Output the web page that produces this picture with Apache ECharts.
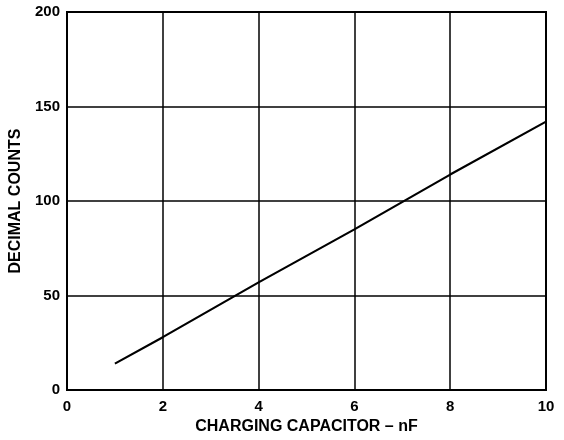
<!DOCTYPE html>
<html><head><meta charset="utf-8">
<script src="https://cdn.jsdelivr.net/npm/echarts@6/dist/echarts.min.js"></script>
<style>html,body{margin:0;padding:0;background:#fff}#c{width:564px;height:440px}</style>
</head><body><div id="c"></div>
<script>
const capacitanceNF = [1, 2, 4, 6, 8, 10];
const decimalCounts = [14, 28, 57, 85, 114, 142];
const xTitle = 'CHARGING CAPACITOR – nF';
const yTitle = 'DECIMAL COUNTS';

const chart = echarts.init(document.getElementById('c'));
const font = 'Liberation Sans, Arial, Helvetica, sans-serif';
chart.setOption({
  animation: false,
  backgroundColor: '#fff',
  grid: { left: 67, right: 18, top: 12, bottom: 46, show: true, borderColor: '#000', borderWidth: 2 },
  xAxis: {
    type: 'value', min: 0, max: 10, interval: 2,
    name: xTitle, nameLocation: 'middle', nameGap: 28,
    nameTextStyle: { fontFamily: font, fontWeight: 'bold', fontSize: 16, color: '#000' },
    axisLine: { show: true, lineStyle: { color: '#000', width: 2 } },
    axisTick: { show: false },
    axisLabel: { fontFamily: font, fontWeight: 'bold', fontSize: 15, color: '#000', margin: 9 },
    splitLine: { show: true, lineStyle: { color: '#000', width: 1.5 } }
  },
  yAxis: {
    type: 'value', min: 0, max: 200, interval: 50,
    name: yTitle, nameLocation: 'middle', nameGap: 37,
    nameTextStyle: { fontFamily: font, fontWeight: 'bold', fontSize: 16, color: '#000' },
    axisLine: { show: true, lineStyle: { color: '#000', width: 2 } },
    axisTick: { show: false },
    axisLabel: { fontFamily: font, fontWeight: 'bold', fontSize: 15, color: '#000', margin: 7 },
    splitLine: { show: true, lineStyle: { color: '#000', width: 1.5 } }
  },
  series: [{
    type: 'line',
    data: capacitanceNF.map((x, i) => [x, decimalCounts[i]]),
    showSymbol: false,
    lineStyle: { color: '#000', width: 2.2 }
  }]
});
</script>
</body></html>
